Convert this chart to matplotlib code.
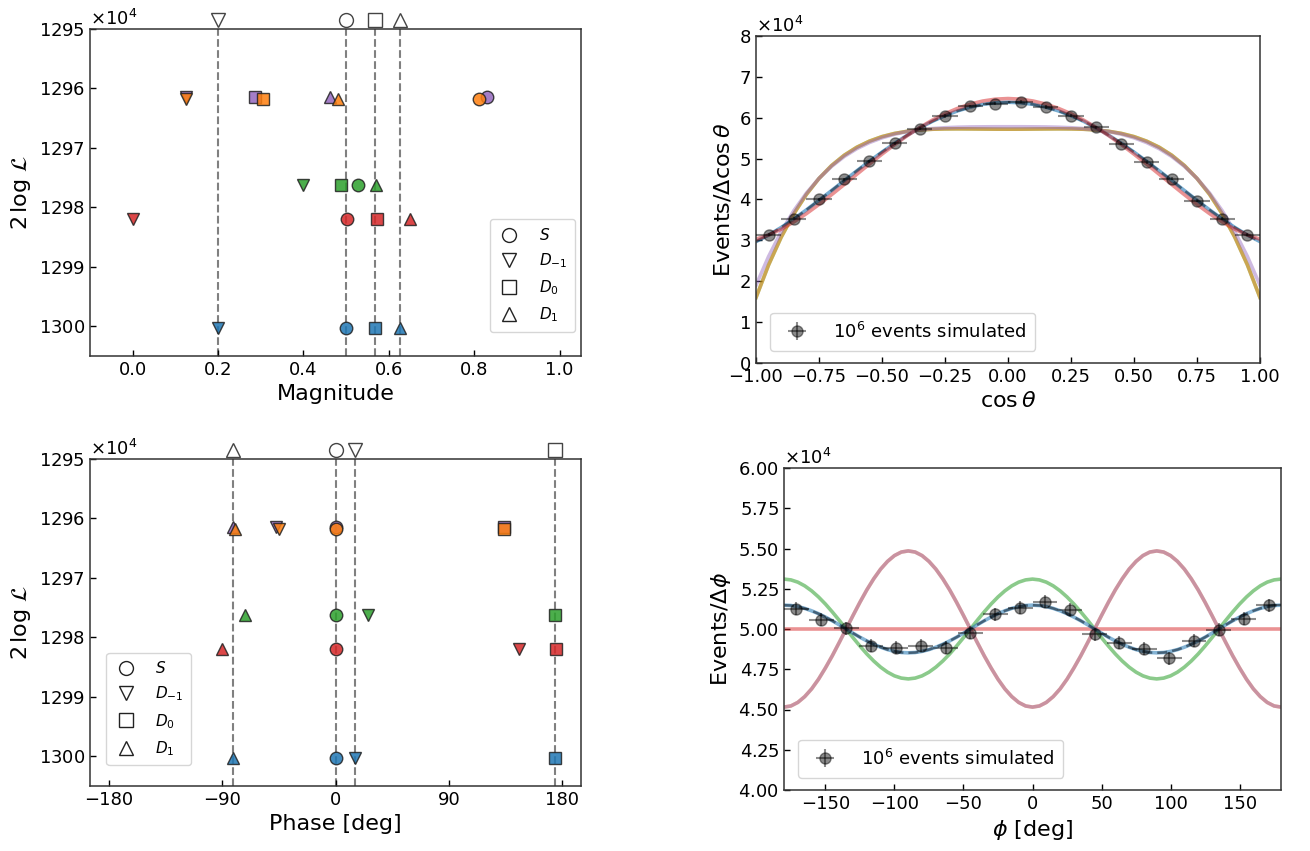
import numpy as np
import matplotlib
matplotlib.use('Agg')
import matplotlib.pyplot as plt
from matplotlib.ticker import ScalarFormatter, MultipleLocator, FormatStrFormatter

# ---------------- data ----------------
model_colors = ['tab:blue', 'tab:red', 'tab:green', 'tab:purple', 'tab:orange']
loglik = [13000300, 12981950, 12976250, 12961450, 12961800]

mag_S = [0.500, 0.502, 0.527, 0.8295, 0.8117]
mag_Dm1 = [0.200, 0.000, 0.400, 0.125, 0.124]
mag_D0 = [0.567, 0.572, 0.487, 0.2865, 0.306]
mag_D1 = [0.625, 0.649, 0.570, 0.4624, 0.481]

phase_S = [0.0, 0.0, 0.0, 0.0, 0.0]
phase_Dm1 = [15.2, 146.0, 25.9, -47.2, -44.5]
phase_D0 = [174.5, 175.0, 174.0, 133.5, 133.5]
phase_D1 = [-81.8, -90.5, -72.2, -81.8, -80.2]

true_mag = [0.5, 0.2, 0.567, 0.625]
true_phase = [0.0, 15.2, 174.5, -81.8]
wave_labels = ['$S$', '$D_{-1}$', '$D_0$', '$D_1$']
wave_markers = ['o', 'v', 's', '^']

# cos(theta) histogram (units of 1e4)
cos_centers = [-0.95, -0.85, -0.75, -0.65, -0.55, -0.45, -0.35, -0.25, -0.15, -0.05,
               0.05, 0.15, 0.25, 0.35, 0.45, 0.55, 0.65, 0.75, 0.85, 0.95]
cos_counts = [3.14, 3.53, 4.00, 4.49, 4.93, 5.375, 5.73, 6.04, 6.28, 6.34,
              6.39, 6.26, 6.05, 5.77, 5.37, 4.92, 4.51, 3.97, 3.53, 3.14]
cos_err = 0.04

# phi histogram (units of 1e4)
phi_centers = [-171, -153, -135, -117, -99, -81, -63, -45, -27, -9,
               9, 27, 45, 63, 81, 99, 117, 135, 153, 171]
phi_counts = [5.125, 5.057, 5.005, 4.897, 4.883, 4.897, 4.883, 4.978, 5.092, 5.132,
              5.169, 5.119, 4.968, 4.916, 4.877, 4.819, 4.928, 4.995, 5.065, 5.146]
phi_err = 0.04

# model curves in cos(theta), sampled at -1..1 step 0.05 (units of 1e4)
cos_blue = [2.970, 3.130, 3.316, 3.523, 3.746, 3.980, 4.219, 4.461, 4.701, 4.935, 5.160,
            5.373, 5.571, 5.752, 5.913, 6.052, 6.168, 6.260, 6.327, 6.367, 6.380,
            6.367, 6.327, 6.260, 6.168, 6.052, 5.913, 5.752, 5.571, 5.373, 5.160,
            4.935, 4.701, 4.461, 4.219, 3.980, 3.746, 3.523, 3.316, 3.130, 2.970]
cos_red = [3.030, 3.131, 3.273, 3.450, 3.654, 3.879, 4.118, 4.366, 4.617, 4.867, 5.110,
           5.343, 5.561, 5.762, 5.942, 6.099, 6.230, 6.334, 6.409, 6.455, 6.470,
           6.455, 6.409, 6.334, 6.230, 6.099, 5.942, 5.762, 5.561, 5.343, 5.110,
           4.867, 4.617, 4.366, 4.118, 3.879, 3.654, 3.450, 3.273, 3.131, 3.030]
cos_green_orange = [1.600, 2.400, 3.078, 3.650, 4.125, 4.515, 4.831, 5.082, 5.278, 5.427, 5.538,
                    5.616, 5.668, 5.701, 5.719, 5.727, 5.729, 5.727, 5.724, 5.721, 5.720,
                    5.721, 5.724, 5.727, 5.729, 5.727, 5.719, 5.701, 5.668, 5.616, 5.538,
                    5.427, 5.278, 5.082, 4.831, 4.515, 4.125, 3.650, 3.078, 2.400, 1.600]
cos_purple = [1.900, 2.606, 3.211, 3.725, 4.156, 4.516, 4.811, 5.051, 5.243, 5.393, 5.509,
              5.597, 5.661, 5.706, 5.736, 5.756, 5.768, 5.775, 5.778, 5.780, 5.780,
              5.780, 5.778, 5.775, 5.768, 5.756, 5.736, 5.706, 5.661, 5.597, 5.509,
              5.393, 5.243, 5.051, 4.811, 4.516, 4.156, 3.725, 3.211, 2.606, 1.900]

# model curves in phi, sampled at -180..180 step 5 deg (units of 1e4)
phi_blue = [5.148, 5.146, 5.139, 5.128, 5.113, 5.095, 5.074, 5.051, 5.026, 5.000,
            4.974, 4.949, 4.926, 4.905, 4.887, 4.872, 4.861, 4.854, 4.852,
            4.854, 4.861, 4.872, 4.887, 4.905, 4.926, 4.949, 4.974, 5.000,
            5.026, 5.051, 5.074, 5.095, 5.113, 5.128, 5.139, 5.146, 5.148,
            5.146, 5.139, 5.128, 5.113, 5.095, 5.074, 5.051, 5.026, 5.000,
            4.974, 4.949, 4.926, 4.905, 4.887, 4.872, 4.861, 4.854, 4.852,
            4.854, 4.861, 4.872, 4.887, 4.905, 4.926, 4.949, 4.974, 5.000,
            5.026, 5.051, 5.074, 5.095, 5.113, 5.128, 5.139, 5.146, 5.148]
phi_green = [5.310, 5.305, 5.291, 5.268, 5.237, 5.199, 5.155, 5.106, 5.054, 5.000,
             4.946, 4.894, 4.845, 4.801, 4.763, 4.732, 4.709, 4.695, 4.690,
             4.695, 4.709, 4.732, 4.763, 4.801, 4.845, 4.894, 4.946, 5.000,
             5.054, 5.106, 5.155, 5.199, 5.237, 5.268, 5.291, 5.305, 5.310,
             5.305, 5.291, 5.268, 5.237, 5.199, 5.155, 5.106, 5.054, 5.000,
             4.946, 4.894, 4.845, 4.801, 4.763, 4.732, 4.709, 4.695, 4.690,
             4.695, 4.709, 4.732, 4.763, 4.801, 4.845, 4.894, 4.946, 5.000,
             5.054, 5.106, 5.155, 5.199, 5.237, 5.268, 5.291, 5.305, 5.310]
phi_purple_orange = [4.515, 4.522, 4.544, 4.580, 4.628, 4.688, 4.758, 4.834, 4.916, 5.000,
                     5.084, 5.166, 5.243, 5.312, 5.372, 5.420, 5.456, 5.478, 5.485,
                     5.478, 5.456, 5.420, 5.372, 5.312, 5.243, 5.166, 5.084, 5.000,
                     4.916, 4.834, 4.758, 4.688, 4.628, 4.580, 4.544, 4.522, 4.515,
                     4.522, 4.544, 4.580, 4.628, 4.688, 4.758, 4.834, 4.916, 5.000,
                     5.084, 5.166, 5.243, 5.312, 5.372, 5.420, 5.456, 5.478, 5.485,
                     5.478, 5.456, 5.420, 5.372, 5.312, 5.243, 5.166, 5.084, 5.000,
                     4.916, 4.834, 4.758, 4.688, 4.628, 4.580, 4.544, 4.522, 4.515]
phi_red = [5.000, 5.000]

# ---------------- figure ----------------
W, H = 1310, 851
fig = plt.figure(figsize=(W / 100, H / 100), dpi=100)


def add_ax(l, r, t, b):
    return fig.add_axes([l / W, 1 - b / H, (r - l) / W, (b - t) / H])


ax_tl = add_ax(90, 581, 29, 356)
ax_tr = add_ax(756, 1260, 36, 363)
ax_bl = add_ax(90, 581, 459, 786)
ax_br = add_ax(784, 1281, 468, 790)

TICK_FS = 13
LABEL_FS = 16


def style(ax):
    ax.tick_params(direction='in', labelsize=TICK_FS, length=4, width=1)
    for s in ax.spines.values():
        s.set_linewidth(1.1)
        s.set_color('#333333')
    ax.yaxis.get_offset_text().set_fontsize(TICK_FS)


def sci_y(ax):
    fmt = ScalarFormatter(useMathText=True, useOffset=False)
    fmt.set_scientific(True)
    fmt.set_powerlimits((4, 4))
    ax.yaxis.set_major_formatter(fmt)


params_mag = [mag_S, mag_Dm1, mag_D0, mag_D1]
params_phase = [phase_S, phase_Dm1, phase_D0, phase_D1]

for ax, params, truth in [(ax_tl, params_mag, true_mag), (ax_bl, params_phase, true_phase)]:
    for tv in truth:
        ax.axvline(tv, color='gray', ls='--', lw=1.5, zorder=1)
    for i, col in enumerate(model_colors):
        for p, mk in zip(params, wave_markers):
            ax.plot(p[i], loglik[i], marker=mk, ms=9, color=col, alpha=0.85,
                    mec='#222222', mew=1.0, ls='none', zorder=3)
    trans = ax.get_xaxis_transform()
    for tv, mk in zip(truth, wave_markers):
        ax.plot(tv, 1.026, marker=mk, ms=10, mfc='white', mec='#444444', mew=1.0,
                transform=trans, clip_on=False, ls='none', zorder=5)
    for mk, lb in zip(wave_markers, wave_labels):
        ax.plot([], [], marker=mk, ms=10, mfc='white', mec='#222222', mew=1.0,
                ls='none', label=lb)
    ax.set_ylim(13005000, 12950000)
    ax.yaxis.set_major_locator(MultipleLocator(10000))
    sci_y(ax)
    ax.set_ylabel(r'$2\,\log\,\mathcal{L}$', fontsize=LABEL_FS)
    style(ax)

leg_kw = dict(fontsize=11, handletextpad=1.2, borderpad=0.5, labelspacing=0.55,
              handlelength=1.5)
ax_tl.legend(loc='lower right', bbox_to_anchor=(1.003, 0.05), **leg_kw)
ax_tl.set_xlim(-0.1, 1.05)
ax_tl.xaxis.set_major_locator(MultipleLocator(0.2))
ax_tl.xaxis.set_major_formatter(FormatStrFormatter('%.1f'))
ax_tl.set_xlabel('Magnitude', fontsize=LABEL_FS)

ax_bl.legend(loc='lower left', bbox_to_anchor=(0.018, 0.04), **leg_kw)
ax_bl.set_xlim(-195, 195)
ax_bl.set_xticks([-180, -90, 0, 90, 180])
ax_bl.set_xlabel('Phase [deg]', fontsize=LABEL_FS)

# ---- cos theta panel ----
cos_grid = np.linspace(-1, 1, len(cos_blue))
lw_c = 2.6
ax_tr.plot(cos_grid, np.array(cos_green_orange) * 1e4, color='tab:green', alpha=0.5, lw=lw_c)
ax_tr.plot(cos_grid, np.array(cos_green_orange) * 1e4, color='tab:orange', alpha=0.5, lw=lw_c)
ax_tr.plot(cos_grid, np.array(cos_purple) * 1e4, color='tab:purple', alpha=0.45, lw=lw_c)
ax_tr.plot(cos_grid, np.array(cos_blue) * 1e4, color='tab:blue', alpha=0.6, lw=lw_c)
ax_tr.plot(cos_grid, np.array(cos_blue) * 1e4, color='#1a2a3a', alpha=0.6, lw=1.8,
           ls=(0, (4, 2)))
ax_tr.plot(cos_grid, np.array(cos_red) * 1e4, color='tab:red', alpha=0.5, lw=lw_c)
ax_tr.errorbar(cos_centers, np.array(cos_counts) * 1e4, xerr=0.05, yerr=cos_err * 1e4,
               fmt='o', ms=8, color='black', alpha=0.45, elinewidth=1.5, capsize=0,
               label=r'$10^6$ events simulated', zorder=5)
ax_tr.set_xlim(-1, 1)
ax_tr.set_ylim(0, 80000)
ax_tr.xaxis.set_major_locator(MultipleLocator(0.25))
ax_tr.yaxis.set_major_locator(MultipleLocator(10000))
sci_y(ax_tr)
ax_tr.set_xlabel(r'$\cos\theta$', fontsize=LABEL_FS)
ax_tr.set_ylabel(r'Events/$\Delta\cos\theta$', fontsize=LABEL_FS)
ax_tr.legend(loc='lower left', fontsize=13, handletextpad=1.0, borderpad=0.5,
             bbox_to_anchor=(0.01, 0.01))
style(ax_tr)

# ---- phi panel ----
phi_grid = np.linspace(-180, 180, len(phi_blue))
phi_ends = [-180, 180]
ax_br.plot(phi_grid, np.array(phi_green) * 1e4, color='tab:green', alpha=0.55, lw=lw_c)
ax_br.plot(phi_grid, np.array(phi_purple_orange) * 1e4, color='tab:orange', alpha=0.5, lw=lw_c)
ax_br.plot(phi_grid, np.array(phi_purple_orange) * 1e4, color='tab:purple', alpha=0.5, lw=lw_c)
ax_br.plot(phi_ends, np.array(phi_red) * 1e4, color='tab:red', alpha=0.5, lw=lw_c)
ax_br.plot(phi_grid, np.array(phi_blue) * 1e4, color='tab:blue', alpha=0.55, lw=lw_c)
ax_br.plot(phi_grid, np.array(phi_blue) * 1e4, color='#1a2a3a', alpha=0.6, lw=1.8,
           ls=(0, (4, 2)))
ax_br.errorbar(phi_centers, np.array(phi_counts) * 1e4, xerr=9, yerr=phi_err * 1e4,
               fmt='o', ms=8, color='black', alpha=0.45, elinewidth=1.5, capsize=0,
               label=r'$10^6$ events simulated', zorder=5)
ax_br.set_xlim(-180, 180)
ax_br.set_ylim(40000, 60000)
ax_br.xaxis.set_major_locator(MultipleLocator(50))
ax_br.yaxis.set_major_locator(MultipleLocator(2500))
sci_y(ax_br)
ax_br.set_xlabel(r'$\phi$ [deg]', fontsize=LABEL_FS)
ax_br.set_ylabel(r'Events/$\Delta\phi$', fontsize=LABEL_FS)
ax_br.legend(loc='lower left', fontsize=13, handletextpad=1.0, borderpad=0.5,
             bbox_to_anchor=(0.01, 0.01))
style(ax_br)

fig.savefig('out.png', dpi=100)
